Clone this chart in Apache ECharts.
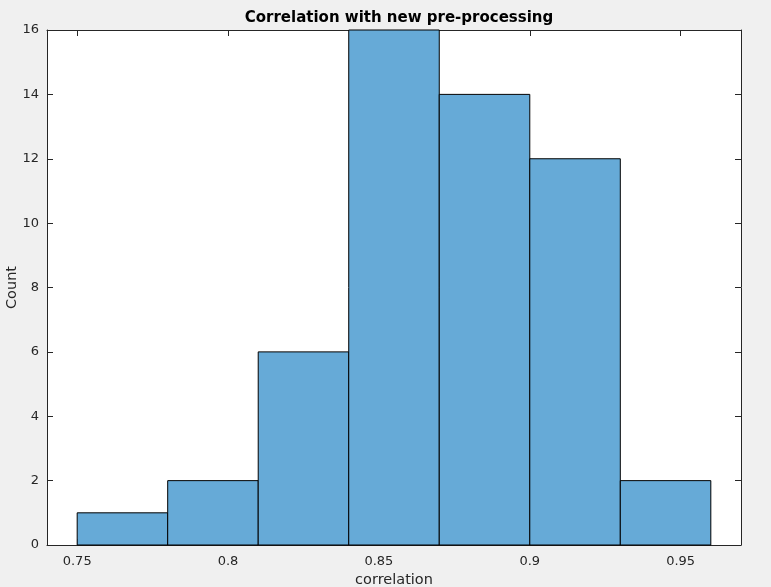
<!DOCTYPE html>
<html>
<head>
<meta charset="utf-8">
<script src="https://cdn.jsdelivr.net/npm/echarts@6/dist/echarts.min.js"></script>
<style>html,body{margin:0;padding:0;background:#f0f0f0;overflow:hidden;}#c{width:771px;height:587px;}</style>
</head>
<body>
<div id="c"></div>
<script>
var binEdges = [0.75, 0.78, 0.81, 0.84, 0.87, 0.90, 0.93, 0.96];
var counts = [1, 2, 6, 16, 14, 12, 2];
var xTicks = [0.75, 0.8, 0.85, 0.9, 0.95];
var yTicks = [0, 2, 4, 6, 8, 10, 12, 14, 16];

var data = counts.map(function (c, i) { return [binEdges[i], binEdges[i + 1], c]; });
var axisColor = '#262626';
var font = 'DejaVu Sans';

var chart = echarts.init(document.getElementById('c'));
chart.setOption({
  backgroundColor: '#f0f0f0',
  animation: false,
  title: {
    text: 'Correlation with new pre-processing',
    left: 394, top: 6, textAlign: 'center',
    textStyle: { fontFamily: font, fontSize: 15, fontWeight: 'bold', color: '#000' }
  },
  grid: { left: 47, right: 30, top: 30, bottom: 42, show: true, backgroundColor: '#fff', borderWidth: 0,
    containLabel: false, outerBoundsMode: 'none' },
  xAxis: [{
    type: 'value', min: 0.74, max: 0.97, position: 'bottom',
    name: 'correlation', nameLocation: 'middle', nameGap: 28, nameMoveOverlap: false,
    nameTextStyle: { fontFamily: font, fontSize: 14.5, color: axisColor },
    axisLine: { show: true, onZero: false, lineStyle: { color: axisColor, width: 1 } },
    axisTick: { show: true, inside: true, length: 6, customValues: xTicks, lineStyle: { color: axisColor } },
    axisLabel: { customValues: xTicks, fontFamily: font, fontSize: 13, color: axisColor, margin: 10,
      formatter: function (v) { return String(+(+v).toFixed(2)); } },
    splitLine: { show: false }
  }, {
    type: 'value', min: 0.74, max: 0.97, position: 'top',
    axisLine: { show: true, onZero: false, lineStyle: { color: axisColor, width: 1 } },
    axisTick: { show: true, inside: true, length: 6, customValues: xTicks, lineStyle: { color: axisColor } },
    axisLabel: { show: false },
    splitLine: { show: false }
  }],
  yAxis: [{
    type: 'value', min: 0, max: 16, interval: 2, position: 'left',
    name: 'Count', nameLocation: 'middle', nameGap: 27, nameMoveOverlap: false,
    nameTextStyle: { fontFamily: font, fontSize: 14.5, color: axisColor },
    axisLine: { show: true, onZero: false, lineStyle: { color: axisColor, width: 1 } },
    axisTick: { show: true, inside: true, length: 6, lineStyle: { color: axisColor } },
    axisLabel: { fontFamily: font, fontSize: 13, color: axisColor, margin: 8 },
    splitLine: { show: false }
  }, {
    type: 'value', min: 0, max: 16, interval: 2, position: 'right',
    axisLine: { show: true, onZero: false, lineStyle: { color: axisColor, width: 1 } },
    axisTick: { show: true, inside: true, length: 6, lineStyle: { color: axisColor } },
    axisLabel: { show: false },
    splitLine: { show: false }
  }],
  series: [{
    type: 'custom',
    xAxisIndex: 0, yAxisIndex: 0,
    encode: { x: [0, 1], y: 2 },
    data: data,
    renderItem: function (params, api) {
      var p0 = api.coord([api.value(0), api.value(2)]);
      var p1 = api.coord([api.value(1), 0]);
      return {
        type: 'rect',
        shape: { x: p0[0], y: p0[1], width: p1[0] - p0[0], height: p1[1] - p0[1] },
        style: { fill: '#66aad7', stroke: '#000', lineWidth: 1 }
      };
    }
  }]
});
</script>
</body>
</html>
